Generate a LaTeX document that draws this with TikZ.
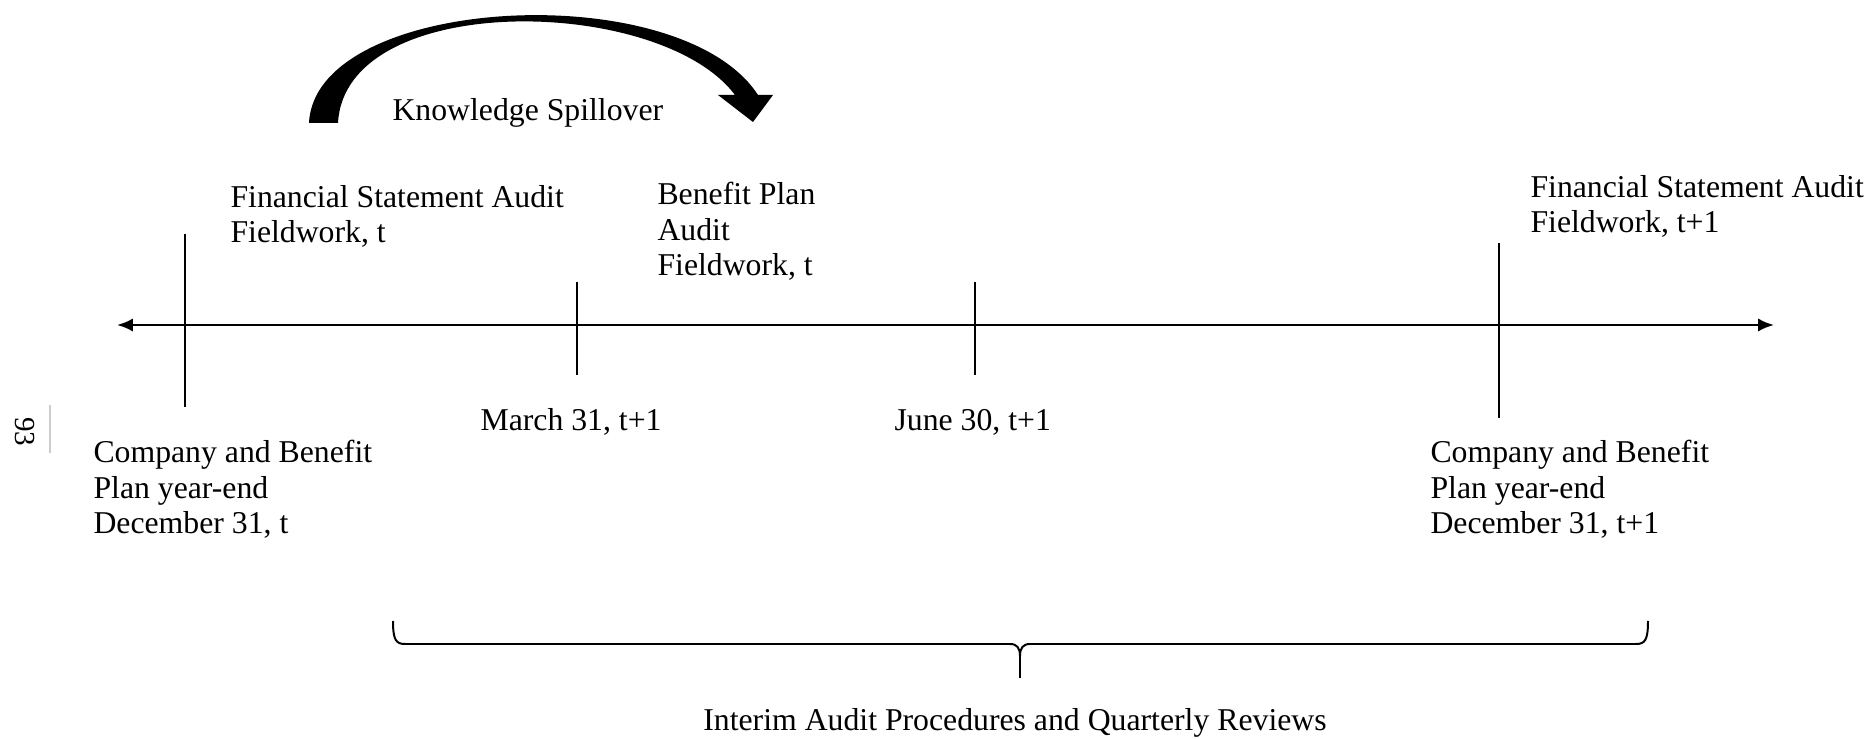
\documentclass[tikz,border=0pt]{standalone}
\usepackage{fontspec}
\setmainfont{Liberation Serif}
\usetikzlibrary{arrows.meta}
\newcommand{\tlfont}{\linespread{1}\fontsize{12}{13.6}\selectfont}
\newcommand{\tlpagefont}{\linespread{1}\fontsize{11}{13}\selectfont}
\tikzset{
    tl/chart/.style={font=\tlfont, x=0.378pt, y=-0.378pt, every node/.style={align=left, inner sep=0pt}},
    tl/text/.style={anchor=base west},
    tl/axis/.style={{Latex[length=6pt,width=5pt]}-{Latex[length=6pt,width=5pt]}, line width=0.95pt},
    tl/tick/.style={line width=1.05pt},
    tl/brace/.style={line width=0.75pt},
    tl/spill/.style={fill=black},
    tl/page/.style={draw=black!20, line width=0.5pt}
}

\begin{document}
\begin{tikzpicture}[tl/chart]
    \useasboundingbox (0,0) rectangle (1871,739);
    % time axis
    \coordinate (axisleft) at (117,325);
    \coordinate (axisright) at (1774,325);
    \draw[tl/axis] (axisleft) -- (axisright);
    \foreach \x/\top/\bot in {185/234/407,577/282/375,975/282/375,1499/243/418}
        \draw[tl/tick] (\x,\top) -- (\x,\bot);
    % labels (base = last line)
    \node[tl/text] (fsat) at (230,243) {Financial Statement Audit\\Fieldwork, t};
    \node[tl/text] (bpa) at (657,276) {Benefit Plan\\Audit\\Fieldwork, t};
    \node[tl/text] (fsanext) at (1530,233) {Financial Statement Audit\\Fieldwork, t+1};
    \node[tl/text] (march) at (480,431) {March 31, t+1};
    \node[tl/text] (june) at (894,431) {June 30, t+1};
    \node[tl/text] (yearend) at (93,534) {Company and Benefit\\Plan year-end\\December 31, t};
    \node[tl/text] (yearendnext) at (1430,534) {Company and Benefit\\Plan year-end\\December 31, t+1};
    % spillover arrow
    \fill[tl/spill] (309,123) .. controls (315,-5) and (680,-25) .. (758,95) -- (773,95) -- (753,122) -- (718,95) -- (735,95)
        .. controls (660,-5) and (345,-10) .. (338,123) -- cycle;
    \node[tl/text] (spill) at (392,121) {Knowledge Spillover};
    % interim brace
    \draw[tl/brace] (393,621) .. controls (393,640) and (396,644) .. (405,644) -- (1010,644)
        .. controls (1017,644) and (1020,648) .. (1020,656) .. controls (1020,648) and (1023,644) .. (1030,644)
        -- (1636,644) .. controls (1645,644) and (1648,640) .. (1648,621);
    \draw[tl/brace] (1020,656) -- (1020,678);
    \node[anchor=base] (interim) at (1015,731) {Interim Audit Procedures and Quarterly Reviews};
    % page number
    \node[rotate=-90, font=\tlpagefont] (pagenum) at (25,432) {93};
    \draw[tl/page] (50,405) -- (50,453);
\end{tikzpicture}
\end{document}
